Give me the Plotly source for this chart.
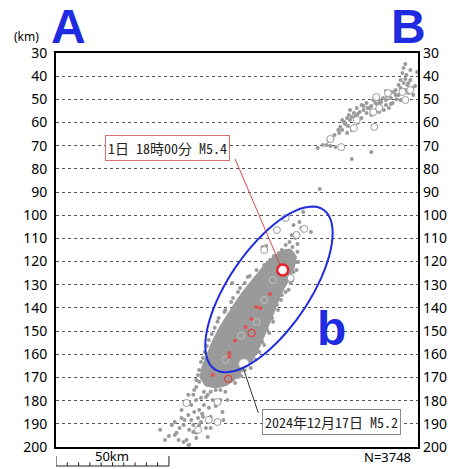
import math
import plotly.graph_objects as go

# ---------------- data (x = distance km along section, d = depth km) ----------------
depth_ticks = list(range(30, 201, 10))

# outline of the densely filled core of the hypocentre cloud
core_outline = [
    (103.9, 115.0), (106.0, 118.0), (105.2, 121.9), (103.4, 126.6), (100.9, 130.9),
    (98.7, 135.3), (96.5, 140.9), (94.4, 146.0), (92.2, 150.8), (90.1, 156.0),
    (87.9, 160.3), (84.9, 164.6), (81.5, 167.6), (78.4, 171.1), (75.0, 173.2),
    (70.7, 174.1), (66.4, 173.2), (64.2, 169.8), (65.1, 165.5), (67.2, 160.3),
    (69.8, 154.2), (72.8, 148.6), (76.3, 143.0), (79.7, 137.9), (83.2, 133.1),
    (86.6, 128.8), (90.1, 124.5), (93.5, 120.6), (97.4, 117.6), (100.9, 115.4),
]

# small events (filled grey dots)
dots_upper = [
    (154.7, 34.7), (153.9, 36.5), (153.4, 38.6), (155.2, 39.5), (159.9, 38.2),
    (152.6, 41.6), (154.7, 41.2), (153.9, 42.9), (151.7, 43.8), (156.0, 42.9),
    (152.6, 45.1), (154.7, 46.0), (157.8, 45.1), (159.0, 44.2), (156.0, 47.3),
    (150.4, 48.1), (148.3, 49.4), (146.1, 50.3), (144.0, 51.1), (149.1, 51.6),
    (146.1, 52.4), (142.2, 52.0), (140.5, 50.3), (137.5, 51.6), (135.3, 52.4),
    (138.8, 53.7), (144.0, 53.3), (145.2, 54.6), (147.4, 53.7), (136.2, 54.6),
    (133.2, 53.7), (134.5, 55.5), (131.9, 55.9), (137.5, 55.9), (139.6, 56.7),
    (129.7, 56.7), (128.9, 58.0), (126.7, 58.9), (130.2, 58.9), (127.6, 59.8),
    (129.3, 61.5), (131.0, 63.2), (126.7, 63.2), (128.9, 64.5), (125.9, 61.9),
    (125.4, 64.5), (118.1, 69.7), (119.8, 69.7), (121.5, 70.1), (123.7, 70.6),
    (139.6, 72.7), (131.0, 75.7), (116.8, 88.7), (142.6, 49.0), (149.6, 46.8),
    (156.9, 41.6), (150.8, 50.0), (141.0, 54.8), (143.3, 51.8), (132.6, 57.4),
    (150.4, 46.0), (151.7, 48.1), (148.3, 46.8), (146.5, 48.6), (144.8, 49.4),
    (143.1, 50.3), (141.4, 51.6), (139.6, 52.9), (137.9, 53.7), (136.2, 52.9),
    (133.6, 56.3), (131.0, 57.6), (128.0, 60.6), (125.0, 63.2), (123.3, 65.4),
    (120.7, 68.0), (115.9, 71.0), (156.9, 37.3), (155.6, 43.8), (158.2, 48.1),
    (152.6, 50.3), (148.3, 52.0), (143.1, 55.5), (135.3, 58.0), (133.6, 60.2),
    (130.2, 54.6), (146.1, 46.4),
]
dots_core_edge = [
    (107.8, 102.9), (105.2, 104.2), (108.6, 105.5), (104.3, 108.5), (106.0, 109.8),
    (103.4, 111.5), (106.9, 112.4), (101.7, 112.8), (104.7, 113.7), (100.0, 115.0),
    (98.7, 116.3), (96.5, 117.6), (102.6, 117.1), (94.8, 119.3), (92.2, 121.5),
    (91.4, 113.7), (93.1, 113.3), (109.5, 98.6), (112.9, 107.2), (107.3, 120.2),
    (106.5, 123.6), (104.7, 127.9), (103.0, 132.2), (100.0, 134.4), (97.8, 138.7),
    (95.7, 144.3), (93.5, 149.5), (91.4, 154.7), (89.2, 159.0), (86.6, 163.3),
    (83.6, 166.8), (80.6, 169.8), (84.9, 126.6), (81.5, 131.4), (78.4, 135.7),
    (75.0, 140.9), (71.5, 146.0), (69.0, 151.2), (66.8, 156.4), (65.1, 161.6),
    (63.4, 166.8), (62.1, 171.1), (78.0, 129.2),
    (106.9, 115.8), (106.5, 120.2), (105.2, 124.5), (103.9, 129.2), (101.7, 133.1),
    (99.6, 136.6), (98.3, 140.9), (96.1, 146.0), (94.4, 150.8), (92.2, 156.0),
    (90.1, 159.0), (88.4, 162.4), (86.2, 165.9), (81.9, 169.3), (79.3, 172.4),
    (88.8, 123.6), (85.8, 126.2), (83.6, 129.2), (80.6, 133.1), (77.6, 137.4),
    (74.6, 141.7), (72.0, 144.3), (70.3, 148.6), (67.7, 153.8), (65.9, 159.0),
    (64.2, 163.3), (62.9, 168.9), (66.4, 171.9),
]
dots_lower = [
    (63.4, 171.9), (62.1, 174.1), (61.2, 175.4), (65.5, 176.2), (67.2, 177.5),
    (60.8, 177.5), (64.2, 178.8), (69.4, 179.7), (59.0, 180.6), (65.5, 181.9),
    (67.7, 183.1), (63.4, 184.0), (61.2, 184.9), (58.6, 186.2), (73.7, 184.9),
    (65.1, 187.0), (62.9, 187.5), (59.9, 188.3), (60.8, 190.5), (63.4, 190.5),
    (56.5, 190.5), (54.7, 191.8), (59.0, 192.6), (66.4, 191.8), (53.4, 193.9),
    (46.1, 192.6), (54.3, 197.0), (56.5, 197.8), (67.2, 195.7), (59.0, 199.0),
    (52.6, 194.8), (57.8, 197.0), (58.6, 199.1), (70.7, 175.4), (68.5, 176.2),
    (55.6, 187.5), (51.3, 190.5), (62.1, 193.9), (75.0, 176.2), (72.8, 179.7),
    (68.5, 172.8), (72.8, 175.4), (66.4, 178.4), (62.1, 179.7), (59.9, 181.9),
    (70.7, 182.3), (55.6, 184.0), (64.7, 185.7), (68.5, 187.0), (56.9, 188.3),
    (52.6, 189.2), (64.2, 189.2), (60.8, 193.5), (50.0, 195.2), (48.3, 197.0),
    (62.1, 196.1), (68.5, 191.8), (74.1, 188.3), (75.9, 179.7), (58.6, 177.5),
]

# larger events (open grey circles) outside the dense core
circles_grey = [
    (156.9, 46.0), (153.4, 46.8), (154.7, 50.3), (141.8, 49.0), (140.5, 55.5),
    (143.1, 53.7), (131.9, 62.4), (133.2, 58.9), (140.9, 61.9), (121.5, 67.1),
    (126.3, 70.6), (147.0, 47.3), (97.8, 106.4), (106.5, 108.5), (109.9, 105.9),
    (92.2, 115.0), (101.7, 101.2), (103.9, 127.1), (71.5, 180.6), (67.7, 188.3),
    (71.5, 189.2), (62.9, 192.6), (57.8, 181.0),
]
# larger events inside the dense core
circles_core = [(88.8, 146.0), (92.2, 136.6), (75.0, 162.4), (82.0, 152.0), (96.0, 128.0)]

# events of this period (red)
red_dots = [
    (94.8, 134.0), (88.8, 139.6), (90.5, 140.0), (86.6, 144.8), (84.0, 148.2),
    (79.3, 154.2), (76.7, 159.4), (76.7, 161.1), (69.4, 168.9),
]
red_circles = [(86.6, 150.8), (76.3, 170.6)]
event_m54 = (100.4, 123.6)
event_m52 = (83.2, 164.2)

label_m54 = "1日 18時00分 M5.4"
label_m52 = "2024年12月17日 M5.2"
count_label = "N=3748"

# ---------------- figure ----------------
GREY = "#9a9a9a"
BLUE = "#1f2be0"

def xs(pts):
    return [p[0] for p in pts]

def ds(pts):
    return [p[1] for p in pts]

fig = go.Figure()

fig.add_trace(go.Scatter(
    x=xs(core_outline) + [core_outline[0][0]], y=ds(core_outline) + [core_outline[0][1]],
    mode="lines", fill="toself", fillcolor=GREY, line=dict(color=GREY, width=3),
    hoverinfo="skip", showlegend=False))

all_dots = dots_upper + dots_core_edge + dots_lower
fig.add_trace(go.Scatter(
    x=xs(all_dots), y=ds(all_dots), mode="markers",
    marker=dict(size=4, color=GREY, line=dict(width=0)), showlegend=False))

fig.add_trace(go.Scatter(
    x=xs(circles_grey), y=ds(circles_grey), mode="markers",
    marker=dict(size=7, color="white", line=dict(width=1, color=GREY)), showlegend=False))

fig.add_trace(go.Scatter(
    x=xs(circles_core), y=ds(circles_core), mode="markers",
    marker=dict(size=7, color="rgba(0,0,0,0)", line=dict(width=1, color="#c4c4c4")),
    showlegend=False))

fig.add_trace(go.Scatter(
    x=xs(red_dots), y=ds(red_dots), mode="markers",
    marker=dict(size=4, color="#e05050", line=dict(width=0)), showlegend=False))

fig.add_trace(go.Scatter(
    x=xs(red_circles), y=ds(red_circles), mode="markers",
    marker=dict(size=7, color="rgba(0,0,0,0)", line=dict(width=1.2, color="#e04040")),
    showlegend=False))

fig.add_trace(go.Scatter(
    x=[event_m52[0]], y=[event_m52[1]], mode="markers",
    marker=dict(size=10, color="white", line=dict(width=1, color="#cccccc")),
    showlegend=False))

fig.add_trace(go.Scatter(
    x=[event_m54[0]], y=[event_m54[1]], mode="markers",
    marker=dict(size=11, color="white", line=dict(width=2.5, color="#e8202a")),
    showlegend=False))

# invisible trace to carry the right-hand depth axis
fig.add_trace(go.Scatter(x=[0], y=[30], yaxis="y2", mode="markers",
                         marker=dict(opacity=0), hoverinfo="skip", showlegend=False))

# ellipse "b" region
cx, cy, a_ax, b_ax = 94.3, 132.0, 42.0, 17.6
ang = math.atan2(-0.816, 0.578)
ux, uy = math.cos(ang), math.sin(ang)
vx, vy = -uy, ux
pts = []
for k in range(73):
    t = 2 * math.pi * k / 72
    px = cx + a_ax * math.cos(t) * ux + b_ax * math.sin(t) * vx
    py = cy + a_ax * math.cos(t) * uy + b_ax * math.sin(t) * vy
    pts.append(f"{px:.3f},{py:.3f}")
path = "M " + " L ".join(pts) + " Z"

shapes = [
    dict(type="path", path=path, xref="x", yref="y", line=dict(color=BLUE, width=2)),
    # leader lines
    dict(type="line", xref="x", yref="y", x0=79.3, y0=75.7, x1=event_m54[0] - 1.2, y1=event_m54[1] - 2.4,
         line=dict(color="#d84848", width=1)),
    dict(type="line", xref="x", yref="y", x0=82.8, y0=165.6, x1=89.6, y1=185.3,
         line=dict(color="#333333", width=1)),
]
# 50 km scale bar below the frame
sb_y0, sb_y1, sb_y2 = -0.0482, -0.0228, -0.0390
shapes.append(dict(type="line", xref="x", yref="paper", x0=0, x1=50, y0=sb_y0, y1=sb_y0,
                   line=dict(color="#222", width=1)))
for km in range(0, 51, 5):
    top = sb_y1 if km in (0, 50) else sb_y2
    shapes.append(dict(type="line", xref="x", yref="paper", x0=km, x1=km, y0=sb_y0, y1=top,
                       line=dict(color="#222", width=1)))

big_font = "Liberation Sans Narrow, Liberation Sans, Arial, sans-serif"
annotations = [
    dict(text="<b>A</b>", x=5.6, y=1.066, xref="x", yref="paper", showarrow=False,
         font=dict(family=big_font, size=48, color=BLUE),
         xanchor="center", yanchor="middle"),
    dict(text="<b>B</b>", x=156.0, y=1.066, xref="x", yref="paper", showarrow=False,
         font=dict(family=big_font, size=48, color=BLUE),
         xanchor="center", yanchor="middle"),
    dict(text="<b>b</b>", x=121.8, y=149.0, xref="x", yref="y", showarrow=False,
         font=dict(family=big_font, size=48, color=BLUE),
         xanchor="center", yanchor="middle"),
    dict(text="(km)", x=-0.081, y=1.041, xref="paper", yref="paper", showarrow=False,
         font=dict(family="Noto Sans, sans-serif", size=12, color="black"),
         xanchor="center", yanchor="middle"),
    dict(text=count_label, x=0.987, y=-0.025, xref="paper", yref="paper", showarrow=False,
         font=dict(family="Noto Sans, sans-serif", size=13, color="black"),
         xanchor="right", yanchor="middle"),
    dict(text="50km", x=25, y=-0.024, xref="x", yref="paper", showarrow=False,
         font=dict(family="Noto Sans, sans-serif", size=13, color="black"),
         xanchor="center", yanchor="middle"),
    dict(text=label_m54, x=49.3, y=71.2, xref="x", yref="y", showarrow=False,
         font=dict(family="Noto Sans Mono CJK JP, Noto Sans CJK JP, monospace", size=14, color="#222"),
         bgcolor="white", bordercolor="#e07070", borderwidth=1, borderpad=2,
         xanchor="center", yanchor="middle"),
    dict(text=label_m52, x=122.2, y=189.4, xref="x", yref="y", showarrow=False,
         font=dict(family="Noto Sans Mono CJK JP, Noto Sans CJK JP, monospace", size=14, color="#222"),
         bgcolor="white", bordercolor="#888888", borderwidth=1, borderpad=2,
         xanchor="center", yanchor="middle"),
]

tickfont = dict(family="Noto Sans, DejaVu Sans, sans-serif", size=14, color="black")

fig.update_layout(
    width=459, height=469,
    margin=dict(l=56, r=31, t=53, b=22),
    paper_bgcolor="white", plot_bgcolor="white",
    showlegend=False,
    xaxis=dict(range=[0, 160.3], showgrid=False, zeroline=False, showticklabels=False,
               ticks="", showline=True, linecolor="black", linewidth=2, mirror=True),
    yaxis=dict(range=[200, 30], tickvals=depth_ticks, ticktext=[str(v) for v in depth_ticks],
               showgrid=True, gridcolor="#555555", gridwidth=1, griddash="dot",
               zeroline=False, ticks="", tickfont=tickfont, ticklabelstandoff=4,
               showline=True, linecolor="black", linewidth=2, mirror=True),
    yaxis2=dict(range=[200, 30], overlaying="y", side="right", tickvals=depth_ticks,
                ticktext=[str(v) for v in depth_ticks], showgrid=False, zeroline=False,
                ticks="", tickfont=tickfont, ticklabelstandoff=4),
    shapes=shapes,
    annotations=annotations,
)

fig.write_html("out.html")
